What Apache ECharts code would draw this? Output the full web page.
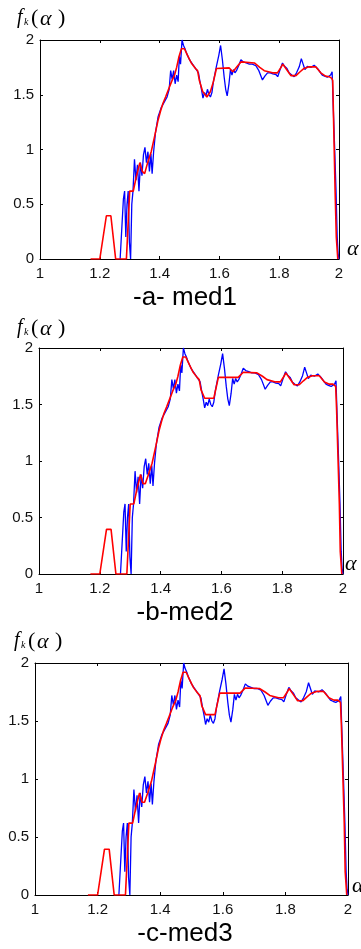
<!DOCTYPE html>
<html><head><meta charset="utf-8">
<script src="https://cdn.jsdelivr.net/npm/echarts@6/dist/echarts.min.js"></script>
<style>html,body{margin:0;padding:0;background:#fff}#c{width:361px;height:949px}</style>
</head><body><div id="c"></div>
<script>
// ---- data ----
const xTicks = [1, 1.2, 1.4, 1.6, 1.8, 2];
const yTicks = [0, 0.5, 1, 1.5, 2];
const captions = ['-a- med1', '-b-med2', '-c-med3'];

// original (blue) multifractal spectrum, shared by all three panels
const blueData = [
[1.268,0],[1.274,0.3],[1.279,0.55],[1.283,0.62],[1.287,0.2],[1.291,0.5],[1.295,0.62],[1.299,0.15],[1.303,0],[1.307,0.5],[1.311,0.62],[1.316,0.91],[1.321,0.72],[1.326,0.86],[1.331,0.62],[1.336,0.88],[1.341,0.76],[1.346,0.95],[1.351,1.02],[1.356,0.88],[1.361,0.98],[1.366,0.8],[1.371,0.96],[1.375,0.78],[1.38,0.98],[1.386,1.15],[1.395,1.3],[1.405,1.38],[1.415,1.43],[1.425,1.48],[1.432,1.55],[1.437,1.72],[1.442,1.64],[1.447,1.72],[1.452,1.6],[1.457,1.68],[1.462,1.62],[1.466,1.85],[1.47,1.78],[1.475,2.0],[1.48,1.95],[1.485,1.92],[1.49,1.88],[1.5,1.82],[1.51,1.78],[1.52,1.74],[1.53,1.7],[1.535,1.62],[1.54,1.55],[1.545,1.47],[1.55,1.52],[1.555,1.49],[1.56,1.55],[1.565,1.5],[1.57,1.48],[1.575,1.52],[1.58,1.62],[1.59,1.76],[1.598,1.86],[1.604,1.95],[1.61,1.82],[1.616,1.66],[1.621,1.55],[1.626,1.49],[1.632,1.6],[1.637,1.73],[1.642,1.68],[1.647,1.73],[1.652,1.7],[1.657,1.72],[1.665,1.77],[1.672,1.82],[1.68,1.8],[1.69,1.79],[1.7,1.78],[1.71,1.78],[1.722,1.765],[1.732,1.72],[1.744,1.635],[1.752,1.67],[1.761,1.7],[1.77,1.7],[1.779,1.69],[1.789,1.685],[1.795,1.665],[1.803,1.73],[1.811,1.79],[1.818,1.76],[1.826,1.74],[1.833,1.7],[1.842,1.68],[1.85,1.665],[1.858,1.7],[1.867,1.755],[1.874,1.83],[1.88,1.78],[1.886,1.73],[1.894,1.76],[1.906,1.75],[1.917,1.77],[1.928,1.74],[1.936,1.71],[1.944,1.68],[1.952,1.67],[1.961,1.66],[1.967,1.65],[1.972,1.68],[1.977,1.71],[1.98,1.45],[1.985,1.05],[1.99,0.63],[1.994,0.2],[1.997,0.05],[2.0,0]
];

// filtered (red) spectra
const redA = [
[1.169,0],[1.2,0],[1.222,0.395],[1.237,0.395],[1.253,0],[1.289,0],[1.3,0.62],[1.312,0.62],[1.322,0.75],[1.334,0.88],[1.342,0.8],[1.35,0.78],[1.36,0.88],[1.372,0.98],[1.385,1.14],[1.395,1.27],[1.403,1.35],[1.411,1.42],[1.42,1.48],[1.43,1.55],[1.44,1.62],[1.45,1.68],[1.457,1.75],[1.465,1.85],[1.473,1.92],[1.483,1.92],[1.495,1.85],[1.506,1.79],[1.52,1.74],[1.527,1.72],[1.533,1.63],[1.544,1.53],[1.558,1.48],[1.57,1.53],[1.58,1.62],[1.59,1.74],[1.633,1.745],[1.645,1.71],[1.66,1.76],[1.672,1.8],[1.717,1.79],[1.735,1.75],[1.75,1.72],[1.778,1.7],[1.794,1.7],[1.806,1.75],[1.812,1.78],[1.818,1.77],[1.83,1.71],[1.839,1.675],[1.856,1.675],[1.87,1.71],[1.883,1.74],[1.9,1.755],[1.922,1.755],[1.939,1.7],[1.955,1.67],[1.967,1.665],[1.976,1.65],[1.979,1.63],[1.987,0.62],[1.991,0.2],[1.996,0]
];
const redB = [
[1.169,0],[1.2,0],[1.222,0.395],[1.237,0.395],[1.253,0],[1.289,0],[1.3,0.62],[1.312,0.62],[1.322,0.75],[1.334,0.88],[1.342,0.8],[1.35,0.8],[1.36,0.88],[1.372,0.98],[1.385,1.14],[1.395,1.27],[1.403,1.35],[1.411,1.42],[1.42,1.48],[1.43,1.55],[1.44,1.62],[1.45,1.68],[1.457,1.75],[1.465,1.85],[1.473,1.92],[1.483,1.92],[1.495,1.85],[1.506,1.79],[1.52,1.74],[1.527,1.72],[1.533,1.63],[1.545,1.555],[1.575,1.555],[1.59,1.74],[1.655,1.74],[1.672,1.785],[1.717,1.78],[1.735,1.75],[1.75,1.72],[1.778,1.7],[1.794,1.7],[1.806,1.75],[1.812,1.78],[1.818,1.77],[1.83,1.71],[1.839,1.675],[1.856,1.675],[1.87,1.71],[1.883,1.74],[1.9,1.755],[1.922,1.755],[1.939,1.7],[1.955,1.68],[1.967,1.68],[1.976,1.66],[1.979,1.45],[1.981,1.45],[1.988,0.62],[1.991,0.2],[1.996,0]
];
const redC = [
[1.169,0],[1.2,0],[1.222,0.395],[1.237,0.395],[1.253,0],[1.289,0],[1.3,0.62],[1.312,0.62],[1.322,0.75],[1.334,0.88],[1.342,0.8],[1.35,0.8],[1.36,0.88],[1.372,0.98],[1.385,1.14],[1.395,1.27],[1.403,1.35],[1.411,1.42],[1.42,1.48],[1.43,1.55],[1.44,1.62],[1.45,1.68],[1.457,1.75],[1.465,1.85],[1.473,1.92],[1.483,1.92],[1.495,1.85],[1.506,1.79],[1.52,1.74],[1.527,1.72],[1.533,1.63],[1.545,1.555],[1.575,1.555],[1.59,1.74],[1.655,1.74],[1.672,1.785],[1.717,1.78],[1.735,1.75],[1.75,1.72],[1.778,1.7],[1.794,1.7],[1.806,1.75],[1.812,1.78],[1.818,1.77],[1.83,1.71],[1.839,1.675],[1.856,1.675],[1.87,1.71],[1.883,1.74],[1.9,1.755],[1.922,1.755],[1.939,1.7],[1.955,1.68],[1.967,1.68],[1.976,1.66],[1.979,1.45],[1.981,1.45],[1.988,0.62],[1.991,0.2],[1.996,0]
];
const redSets = [redA, redB, redC];

// ---- layout ----
const grids = [
  {left: 40, top: 40, width: 299, height: 219},
  {left: 39, top: 348, width: 304, height: 226},
  {left: 35, top: 663, width: 313, height: 232}
];
const capY = [311, 626, 947];
const labelPos = [{x: 17, y: 8}, {x: 17, y: 318}, {x: 14, y: 631}];
const alphaPos = [{x: 347, y: 260}, {x: 345, y: 575}, {x: 352, y: 897}];

const FONT = 'Liberation Sans, Arial, sans-serif';
const SERIF = 'Liberation Serif, Times New Roman, serif';

const xAxis = [], yAxis = [], series = [], graphic = [];
grids.forEach((g, i) => {
  const line = {show: true, onZero: false, lineStyle: {color: '#000', width: 1}};
  const tick = {show: true, inside: true, length: 3, lineStyle: {color: '#000', width: 1}};
  xAxis.push({gridIndex: i, type: 'value', min: xTicks[0], max: xTicks[xTicks.length - 1], interval: 0.2,
    position: 'bottom', axisLine: line, axisTick: tick, splitLine: {show: false},
    axisLabel: {fontSize: 15, color: '#111', margin: 7, fontFamily: FONT}});
  xAxis.push({gridIndex: i, type: 'value', min: xTicks[0], max: xTicks[xTicks.length - 1], interval: 0.2,
    position: 'top', axisLine: line, axisTick: tick, splitLine: {show: false}, axisLabel: {show: false}});
  yAxis.push({gridIndex: i, type: 'value', min: yTicks[0], max: yTicks[yTicks.length - 1], interval: 0.5,
    position: 'left', axisLine: line, axisTick: tick, splitLine: {show: false},
    axisLabel: {fontSize: 15, color: '#111', margin: 6, fontFamily: FONT}});
  yAxis.push({gridIndex: i, type: 'value', min: yTicks[0], max: yTicks[yTicks.length - 1], interval: 0.5,
    position: 'right', axisLine: line, axisTick: tick, splitLine: {show: false}, axisLabel: {show: false}});
  series.push({type: 'line', xAxisIndex: 2 * i, yAxisIndex: 2 * i, data: blueData, showSymbol: false,
    symbol: 'none', lineStyle: {color: '#0000ff', width: 1.3}, z: 2});
  series.push({type: 'line', xAxisIndex: 2 * i, yAxisIndex: 2 * i, data: redSets[i], showSymbol: false,
    symbol: 'none', lineStyle: {color: '#ff0000', width: 1.6}, z: 3});

  graphic.push({type: 'text', x: 185, y: capY[i], style: {text: captions[i], fontSize: 26, fontFamily: FONT,
    fill: '#000', align: 'center', verticalAlign: 'bottom'}});
  const p = labelPos[i];
  const parts = [
    {t: 'f', dx: 0, dy: 0, s: 20},
    {t: 'k', dx: 7, dy: 9, s: 10},
    {t: '(', dx: 14, dy: -1, s: 22},
    {t: 'α', dx: 23, dy: 0, s: 22},
    {t: ')', dx: 41, dy: -1, s: 22}
  ];
  parts.forEach(q => graphic.push({type: 'text', x: p.x + q.dx, y: p.y + q.dy,
    style: {text: q.t, fontSize: q.s, fontFamily: SERIF, fontStyle: q.t === '(' || q.t === ')' ? 'normal' : 'italic',
      fill: '#000', align: 'left', verticalAlign: 'top'}}));
  graphic.push({type: 'text', x: alphaPos[i].x, y: alphaPos[i].y, style: {text: 'α', fontSize: 22,
    fontFamily: SERIF, fontStyle: 'italic', fill: '#000', align: 'left', verticalAlign: 'bottom'}});
});

const chart = echarts.init(document.getElementById('c'), null, {renderer: 'canvas'});
chart.setOption({backgroundColor: '#fff', animation: false, grid: grids, xAxis, yAxis, series, graphic});
</script>
</body></html>
